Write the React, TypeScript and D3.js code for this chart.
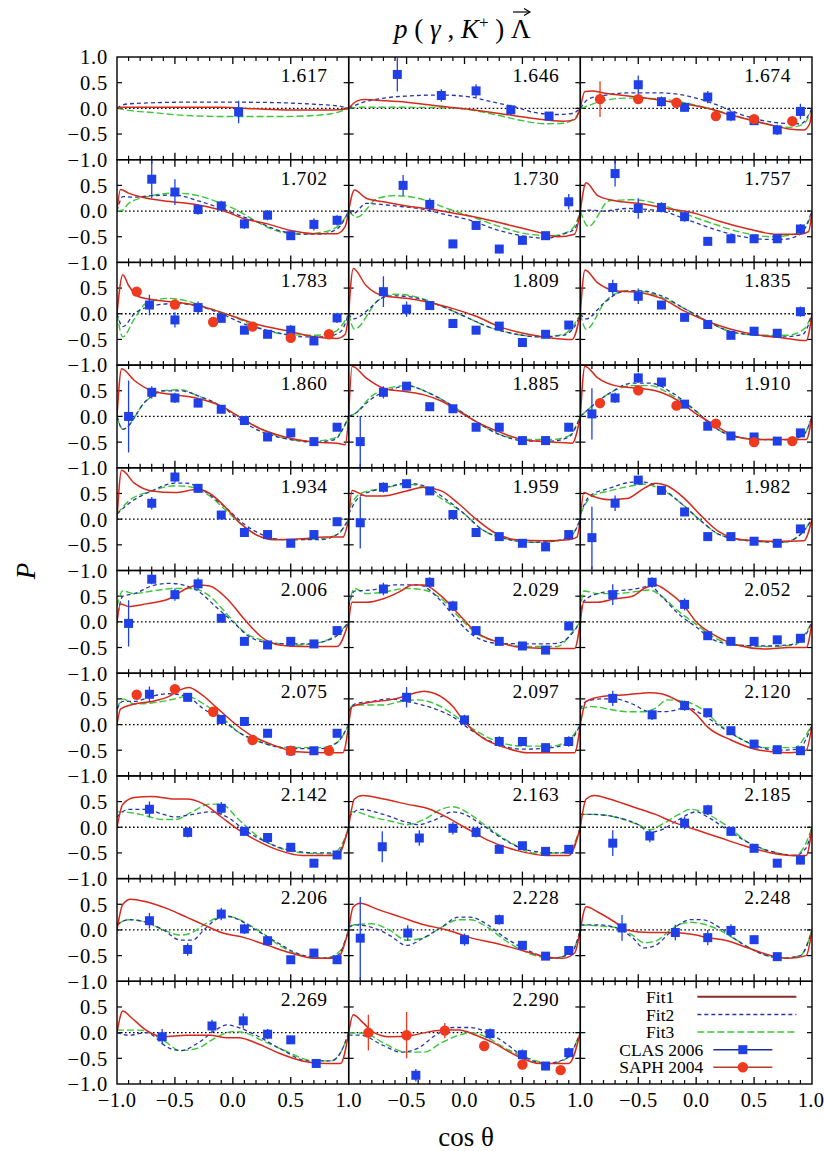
import React from "react";
import * as d3 from "d3";

type Pt = [number, number];
type Dp = [number, number, number]; // cos(theta), P, error

// Photon energies (GeV) labelling each panel
const energies: string[] = [
  "1.617", "1.646", "1.674",
  "1.702", "1.730", "1.757",
  "1.783", "1.809", "1.835",
  "1.860", "1.885", "1.910",
  "1.934", "1.959", "1.982",
  "2.006", "2.029", "2.052",
  "2.075", "2.097", "2.120",
  "2.142", "2.163", "2.185",
  "2.206", "2.228", "2.248",
  "2.269", "2.290",
];

// Fit1 model curves (solid red)
const fit1: Pt[][] = [
  [[-1,0],[-0.95,0.02],[-0.5,0.02],[-0.1,0.02],[0.2,-0.01],[0.5,-0.03],[0.8,-0.03],[0.95,-0.02],[1,0]],
  [[-1,0],[-0.93,0.14],[-0.87,0.17],[-0.7,0.15],[-0.5,0.12],[-0.2,0.04],[0,-0.01],[0.3,-0.1],[0.6,-0.2],[0.85,-0.25],[0.95,-0.22],[1,0]],
  [[-1,0],[-0.96,0.33],[-0.9,0.34],[-0.8,0.3],[-0.5,0.22],[-0.2,0.12],[0.1,0],[0.3,-0.13],[0.6,-0.3],[0.8,-0.4],[0.93,-0.42],[0.98,-0.3],[1,0]],
  [[-1,0],[-0.97,0.42],[-0.9,0.35],[-0.8,0.28],[-0.6,0.2],[-0.3,0.12],[-0.1,0.02],[0.1,-0.15],[0.3,-0.25],[0.5,-0.38],[0.7,-0.44],[0.9,-0.44],[0.97,-0.3],[1,0]],
  [[-1,0],[-0.95,0.41],[-0.85,0.25],[-0.7,0.18],[-0.5,0.1],[-0.3,0.04],[-0.15,-0.02],[0.1,-0.12],[0.4,-0.28],[0.65,-0.42],[0.8,-0.5],[0.95,-0.45],[1,0]],
  [[-1,0],[-0.95,0.55],[-0.85,0.3],[-0.7,0.2],[-0.5,0.15],[-0.25,0.05],[0,-0.05],[0.2,-0.2],[0.45,-0.35],[0.7,-0.45],[0.9,-0.45],[0.97,-0.4],[1,0]],
  [[-1,0],[-0.95,0.76],[-0.9,0.55],[-0.8,0.32],[-0.6,0.25],[-0.4,0.2],[-0.2,0.1],[0,-0.05],[0.2,-0.2],[0.5,-0.35],[0.7,-0.45],[0.9,-0.48],[0.97,-0.4],[1,0]],
  [[-1,0],[-0.96,0.88],[-0.85,0.55],[-0.7,0.35],[-0.5,0.3],[-0.3,0.22],[-0.1,0.1],[0.1,-0.05],[0.3,-0.25],[0.55,-0.4],[0.75,-0.47],[0.93,-0.5],[1,0]],
  [[-1,0],[-0.96,0.85],[-0.85,0.6],[-0.7,0.45],[-0.5,0.42],[-0.3,0.3],[-0.1,0.05],[0.1,-0.15],[0.3,-0.3],[0.55,-0.42],[0.75,-0.47],[0.95,-0.52],[1,0]],
  [[-1,0],[-0.96,0.93],[-0.85,0.7],[-0.7,0.5],[-0.5,0.42],[-0.3,0.35],[-0.1,0.2],[0.05,0],[0.2,-0.2],[0.45,-0.4],[0.7,-0.5],[0.9,-0.52],[0.97,-0.55],[1,0]],
  [[-1,0],[-0.97,0.98],[-0.85,0.75],[-0.7,0.55],[-0.5,0.48],[-0.35,0.42],[-0.2,0.3],[-0.05,0.1],[0.1,-0.1],[0.3,-0.3],[0.5,-0.45],[0.75,-0.5],[0.93,-0.52],[1,0]],
  [[-1,0],[-0.96,0.98],[-0.85,0.75],[-0.7,0.6],[-0.5,0.55],[-0.35,0.5],[-0.15,0.3],[0,0.05],[0.15,-0.15],[0.3,-0.35],[0.5,-0.45],[0.75,-0.45],[0.95,-0.45],[1,0]],
  [[-1,0],[-0.96,0.95],[-0.85,0.7],[-0.7,0.55],[-0.5,0.52],[-0.3,0.58],[-0.2,0.5],[-0.05,0.2],[0.05,-0.05],[0.2,-0.3],[0.35,-0.4],[0.6,-0.38],[0.8,-0.35],[0.95,-0.35],[1,0]],
  [[-1,0],[-0.97,0.56],[-0.85,0.45],[-0.7,0.45],[-0.5,0.55],[-0.35,0.62],[-0.2,0.55],[-0.05,0.3],[0.1,0],[0.25,-0.25],[0.45,-0.4],[0.7,-0.42],[0.9,-0.4],[0.97,-0.35],[1,0]],
  [[-1,0],[-0.97,0.52],[-0.9,0.45],[-0.75,0.38],[-0.6,0.4],[-0.45,0.6],[-0.35,0.7],[-0.25,0.65],[-0.1,0.4],[0.05,0.05],[0.2,-0.25],[0.4,-0.4],[0.7,-0.43],[0.93,-0.42],[1,0]],
  [[-1,0],[-0.97,0.35],[-0.9,0.3],[-0.75,0.35],[-0.55,0.45],[-0.4,0.65],[-0.3,0.72],[-0.2,0.7],[-0.05,0.45],[0.1,0.05],[0.25,-0.3],[0.4,-0.45],[0.6,-0.48],[0.9,-0.48],[1,0]],
  [[-1,0],[-0.97,0.38],[-0.85,0.38],[-0.7,0.45],[-0.55,0.6],[-0.45,0.72],[-0.35,0.72],[-0.2,0.5],[-0.05,0.15],[0.1,-0.2],[0.3,-0.4],[0.5,-0.5],[0.8,-0.52],[0.95,-0.52],[1,0]],
  [[-1,0],[-0.97,0.38],[-0.85,0.38],[-0.7,0.45],[-0.55,0.5],[-0.45,0.65],[-0.35,0.72],[-0.25,0.6],[-0.1,0.3],[0,0],[0.15,-0.25],[0.35,-0.45],[0.6,-0.53],[0.8,-0.5],[0.95,-0.5],[1,0]],
  [[-1,0],[-0.97,0.3],[-0.85,0.4],[-0.7,0.45],[-0.55,0.55],[-0.45,0.68],[-0.38,0.72],[-0.28,0.6],[-0.15,0.35],[0,0.05],[0.15,-0.2],[0.35,-0.4],[0.55,-0.53],[0.8,-0.55],[0.95,-0.55],[1,0]],
  [[-1,0],[-0.97,0.35],[-0.85,0.42],[-0.6,0.5],[-0.45,0.6],[-0.35,0.65],[-0.25,0.6],[-0.1,0.35],[0,0.05],[0.15,-0.25],[0.35,-0.45],[0.55,-0.55],[0.8,-0.55],[0.95,-0.55],[1,0]],
  [[-1,0],[-0.95,0.45],[-0.8,0.55],[-0.6,0.58],[-0.4,0.62],[-0.3,0.6],[-0.15,0.45],[0,0.2],[0.1,-0.05],[0.3,-0.3],[0.55,-0.5],[0.8,-0.55],[0.95,-0.5],[1,0]],
  [[-1,0],[-0.95,0.45],[-0.85,0.58],[-0.7,0.6],[-0.5,0.55],[-0.4,0.55],[-0.25,0.45],[-0.1,0.2],[0.05,-0.05],[0.2,-0.25],[0.4,-0.45],[0.6,-0.55],[0.9,-0.55],[1,0]],
  [[-1,0],[-0.95,0.55],[-0.88,0.62],[-0.7,0.55],[-0.5,0.45],[-0.3,0.35],[-0.2,0.25],[0,0],[0.2,-0.25],[0.45,-0.45],[0.7,-0.55],[0.9,-0.55],[1,0]],
  [[-1,0],[-0.95,0.55],[-0.88,0.62],[-0.75,0.55],[-0.55,0.4],[-0.35,0.25],[-0.2,0.1],[0,-0.05],[0.2,-0.2],[0.4,-0.35],[0.65,-0.5],[0.85,-0.55],[0.95,-0.55],[1,0]],
  [[-1,0],[-0.95,0.5],[-0.88,0.6],[-0.75,0.55],[-0.55,0.4],[-0.4,0.25],[-0.25,0.1],[-0.1,-0.05],[0.1,-0.15],[0.3,-0.3],[0.5,-0.45],[0.7,-0.55],[0.9,-0.55],[1,0]],
  [[-1,0],[-0.96,0.45],[-0.9,0.52],[-0.75,0.4],[-0.55,0.25],[-0.35,0.1],[-0.15,0],[0.05,-0.15],[0.25,-0.25],[0.5,-0.4],[0.7,-0.52],[0.85,-0.55],[0.95,-0.45],[1,0]],
  [[-1,0],[-0.95,0.45],[-0.85,0.35],[-0.7,0.15],[-0.6,0],[-0.4,-0.05],[-0.2,-0.05],[0,-0.1],[0.1,-0.15],[0.25,-0.2],[0.45,-0.35],[0.65,-0.5],[0.8,-0.55],[0.95,-0.5],[1,0]],
  [[-1,0],[-0.95,0.42],[-0.88,0.3],[-0.75,0.05],[-0.6,-0.08],[-0.4,-0.05],[-0.2,-0.05],[-0.05,-0.1],[0.05,-0.1],[0.2,-0.2],[0.4,-0.4],[0.6,-0.55],[0.8,-0.6],[0.93,-0.6],[1,0]],
  [[-1,0],[-0.96,0.35],[-0.88,0.2],[-0.78,0],[-0.65,-0.08],[-0.45,-0.05],[-0.3,0.02],[-0.15,0.05],[-0.05,0.05],[0.1,-0.05],[0.25,-0.2],[0.45,-0.45],[0.65,-0.6],[0.9,-0.6],[1,0]],
];

// Fit2 model curves (blue, short dashes)
const fit2: Pt[][] = [
  [[-1,0],[-0.93,0.08],[-0.8,0.1],[-0.4,0.12],[0,0.12],[0.4,0.11],[0.7,0.08],[0.9,0.05],[1,0]],
  [[-1,0],[-0.9,0.1],[-0.75,0.18],[-0.5,0.24],[-0.2,0.26],[0.05,0.22],[0.25,0.12],[0.45,0.02],[0.6,-0.08],[0.8,-0.12],[0.93,-0.1],[1,0]],
  [[-1,0],[-0.93,0.18],[-0.8,0.25],[-0.6,0.3],[-0.3,0.3],[0,0.2],[0.2,0.05],[0.4,-0.13],[0.7,-0.28],[0.9,-0.3],[1,0]],
  [[-1,0],[-0.95,0.28],[-0.85,0.27],[-0.7,0.3],[-0.5,0.31],[-0.3,0.2],[-0.1,0.05],[0.05,-0.08],[0.2,-0.2],[0.4,-0.38],[0.6,-0.45],[0.75,-0.45],[0.9,-0.35],[1,0]],
  [[-1,0],[-0.96,-0.05],[-0.85,0.15],[-0.6,0.1],[-0.4,0.05],[-0.2,-0.05],[0.05,-0.18],[0.3,-0.38],[0.55,-0.5],[0.7,-0.53],[0.85,-0.45],[0.95,-0.35],[1,0]],
  [[-1,0],[-0.9,0.02],[-0.8,0],[-0.6,0.05],[-0.3,0],[-0.1,-0.15],[0.15,-0.35],[0.4,-0.5],[0.6,-0.55],[0.75,-0.55],[0.9,-0.45],[1,0]],
  [[-1,0],[-0.95,-0.25],[-0.85,0],[-0.7,0.15],[-0.5,0.2],[-0.3,0.15],[-0.1,0],[0.1,-0.2],[0.35,-0.35],[0.6,-0.45],[0.8,-0.45],[0.93,-0.35],[1,0]],
  [[-1,0],[-0.96,-0.1],[-0.82,0.1],[-0.72,0.3],[-0.6,0.35],[-0.4,0.3],[-0.2,0.15],[0,-0.05],[0.2,-0.25],[0.45,-0.4],[0.65,-0.45],[0.85,-0.42],[0.95,-0.25],[1,0]],
  [[-1,0],[-0.95,-0.1],[-0.8,0.2],[-0.65,0.42],[-0.5,0.45],[-0.3,0.35],[-0.1,0.1],[0.1,-0.15],[0.3,-0.35],[0.55,-0.42],[0.75,-0.45],[0.92,-0.4],[1,0]],
  [[-1,0],[-0.95,-0.25],[-0.75,0.3],[-0.6,0.5],[-0.45,0.5],[-0.3,0.4],[-0.1,0.2],[0.05,-0.05],[0.25,-0.3],[0.5,-0.45],[0.7,-0.5],[0.88,-0.45],[0.96,-0.2],[1,0]],
  [[-1,0],[-0.95,0.05],[-0.8,0.35],[-0.6,0.55],[-0.5,0.6],[-0.3,0.45],[-0.1,0.2],[0.1,-0.1],[0.3,-0.35],[0.55,-0.48],[0.75,-0.48],[0.9,-0.4],[1,0]],
  [[-1,0],[-0.9,0.2],[-0.75,0.45],[-0.55,0.65],[-0.4,0.65],[-0.2,0.45],[0,0.1],[0.15,-0.2],[0.35,-0.4],[0.6,-0.45],[0.8,-0.45],[0.93,-0.35],[1,0]],
  [[-1,0.1],[-0.9,0.3],[-0.7,0.55],[-0.5,0.7],[-0.4,0.7],[-0.25,0.55],[-0.05,0.2],[0.1,-0.1],[0.25,-0.3],[0.45,-0.4],[0.75,-0.4],[0.9,-0.3],[1,0]],
  [[-1,0.1],[-0.9,0.45],[-0.7,0.6],[-0.5,0.7],[-0.35,0.65],[-0.2,0.45],[0,0.1],[0.15,-0.2],[0.35,-0.38],[0.6,-0.45],[0.8,-0.42],[0.93,-0.3],[1,0]],
  [[-1,0.1],[-0.92,0.45],[-0.75,0.6],[-0.55,0.72],[-0.45,0.72],[-0.3,0.6],[-0.1,0.25],[0.05,-0.05],[0.2,-0.3],[0.45,-0.42],[0.75,-0.45],[0.9,-0.3],[1,0]],
  [[-1,0.05],[-0.95,0.5],[-0.85,0.55],[-0.7,0.7],[-0.55,0.75],[-0.4,0.7],[-0.3,0.6],[-0.15,0.3],[0,0],[0.15,-0.3],[0.35,-0.42],[0.65,-0.43],[0.88,-0.3],[1,0]],
  [[-1,0.3],[-0.95,0.6],[-0.8,0.62],[-0.6,0.72],[-0.4,0.72],[-0.2,0.4],[-0.05,0],[0.1,-0.3],[0.3,-0.42],[0.6,-0.43],[0.8,-0.42],[0.92,-0.25],[1,0]],
  [[-1,0.1],[-0.97,0.4],[-0.85,0.55],[-0.7,0.6],[-0.5,0.65],[-0.4,0.7],[-0.3,0.5],[-0.15,0.15],[0,-0.1],[0.15,-0.35],[0.35,-0.45],[0.6,-0.47],[0.8,-0.45],[0.93,-0.3],[1,0]],
  [[-1,0.3],[-0.95,0.45],[-0.85,0.45],[-0.7,0.55],[-0.55,0.6],[-0.4,0.55],[-0.25,0.3],[-0.1,0.1],[0.05,-0.15],[0.25,-0.35],[0.5,-0.47],[0.75,-0.47],[0.9,-0.35],[1,0]],
  [[-1,0.25],[-0.95,0.4],[-0.8,0.45],[-0.65,0.5],[-0.5,0.45],[-0.4,0.4],[-0.25,0.3],[-0.1,0.15],[0.05,-0.1],[0.25,-0.35],[0.5,-0.48],[0.75,-0.45],[0.9,-0.35],[1,0]],
  [[-1,0.3],[-0.95,0.45],[-0.8,0.5],[-0.7,0.5],[-0.55,0.4],[-0.4,0.25],[-0.3,0.25],[-0.15,0.3],[-0.1,0.35],[0.05,0.2],[0.25,-0.1],[0.45,-0.35],[0.7,-0.5],[0.88,-0.48],[1,0]],
  [[-1,0.2],[-0.9,0.35],[-0.75,0.35],[-0.6,0.25],[-0.5,0.2],[-0.35,0.25],[-0.2,0.3],[-0.05,0.2],[0.1,-0.05],[0.3,-0.3],[0.5,-0.45],[0.75,-0.5],[0.9,-0.5],[1,0]],
  [[-1,0.2],[-0.9,0.35],[-0.7,0.25],[-0.5,0.1],[-0.4,0.05],[-0.25,0.15],[-0.1,0.3],[0,0.25],[0.15,0.05],[0.35,-0.25],[0.55,-0.45],[0.8,-0.5],[0.92,-0.45],[1,0]],
  [[-1,0.25],[-0.9,0.25],[-0.7,0.2],[-0.5,0.05],[-0.4,-0.1],[-0.3,-0.05],[-0.15,0.15],[0,0.3],[0.1,0.2],[0.3,-0.1],[0.5,-0.35],[0.7,-0.5],[0.85,-0.55],[0.95,-0.4],[1,0]],
  [[-1,0.1],[-0.9,0.2],[-0.75,0.15],[-0.6,0],[-0.45,-0.2],[-0.35,-0.2],[-0.25,0],[-0.15,0.2],[-0.05,0.27],[0.05,0.2],[0.2,0],[0.35,-0.2],[0.55,-0.45],[0.75,-0.55],[0.9,-0.5],[1,0]],
  [[-1,0.05],[-0.95,0.1],[-0.8,0.05],[-0.65,-0.1],[-0.5,-0.3],[-0.35,-0.15],[-0.2,0.05],[-0.05,0.25],[0.05,0.25],[0.2,0.1],[0.35,-0.15],[0.55,-0.4],[0.75,-0.55],[0.92,-0.45],[1,0]],
  [[-1,0.1],[-0.85,0.1],[-0.7,0.05],[-0.55,-0.15],[-0.45,-0.35],[-0.35,-0.3],[-0.25,-0.1],[-0.15,0.1],[-0.05,0.2],[0.05,0.2],[0.2,0.05],[0.35,-0.2],[0.55,-0.45],[0.75,-0.55],[0.9,-0.5],[1,0]],
  [[-1,0],[-0.9,-0.05],[-0.75,0],[-0.55,-0.3],[-0.45,-0.35],[-0.3,-0.2],[-0.15,0.05],[-0.05,0.15],[0.05,0.1],[0.2,-0.05],[0.4,-0.3],[0.65,-0.55],[0.85,-0.55],[0.95,-0.3],[1,0]],
  [[-1,-0.05],[-0.9,-0.05],[-0.7,-0.25],[-0.55,-0.38],[-0.4,-0.3],[-0.25,-0.05],[-0.1,0.1],[0.05,0.1],[0.2,0],[0.35,-0.2],[0.5,-0.45],[0.7,-0.6],[0.88,-0.5],[1,0]],
];

// Fit3 model curves (green, long dashes)
const fit3: Pt[][] = [
  [[-1,0],[-0.9,-0.04],[-0.7,-0.08],[-0.4,-0.14],[0,-0.16],[0.4,-0.16],[0.7,-0.14],[0.9,-0.08],[1,0]],
  [[-1,0],[-0.9,0.02],[-0.5,0.02],[-0.1,0.01],[0.1,-0.05],[0.3,-0.14],[0.5,-0.24],[0.7,-0.3],[0.85,-0.29],[0.95,-0.2],[1,0]],
  [[-1,0],[-0.93,0.05],[-0.85,0.12],[-0.6,0.2],[-0.3,0.18],[0,0.06],[0.3,-0.12],[0.6,-0.3],[0.8,-0.37],[0.93,-0.3],[1,0]],
  [[-1,0],[-0.95,0.02],[-0.9,0.15],[-0.7,0.3],[-0.5,0.35],[-0.3,0.3],[-0.1,0.15],[0.05,0],[0.2,-0.2],[0.4,-0.4],[0.6,-0.45],[0.8,-0.4],[0.93,-0.25],[1,0]],
  [[-1,0],[-0.93,-0.12],[-0.75,0.25],[-0.6,0.3],[-0.4,0.25],[-0.15,0.05],[0.05,-0.1],[0.3,-0.3],[0.55,-0.45],[0.75,-0.48],[0.9,-0.4],[0.97,-0.2],[1,0]],
  [[-1,0],[-0.93,-0.3],[-0.75,0.2],[-0.55,0.22],[-0.3,0.12],[-0.1,-0.05],[0.15,-0.25],[0.4,-0.42],[0.65,-0.5],[0.85,-0.45],[0.95,-0.3],[1,0]],
  [[-1,0],[-0.95,-0.45],[-0.85,-0.1],[-0.75,0.2],[-0.55,0.3],[-0.4,0.25],[-0.2,0.1],[0,-0.05],[0.2,-0.25],[0.45,-0.4],[0.7,-0.42],[0.85,-0.38],[0.95,-0.2],[1,0]],
  [[-1,0],[-0.95,-0.3],[-0.75,0.25],[-0.6,0.38],[-0.4,0.32],[-0.2,0.15],[0,-0.05],[0.2,-0.25],[0.45,-0.4],[0.65,-0.45],[0.85,-0.4],[0.95,-0.2],[1,0]],
  [[-1,0],[-0.95,-0.3],[-0.78,0.25],[-0.6,0.45],[-0.45,0.43],[-0.3,0.32],[-0.1,0.1],[0.1,-0.15],[0.3,-0.35],[0.55,-0.42],[0.78,-0.42],[0.93,-0.3],[1,0]],
  [[-1,0],[-0.95,-0.25],[-0.75,0.3],[-0.6,0.5],[-0.45,0.52],[-0.3,0.4],[-0.1,0.2],[0.05,0],[0.25,-0.25],[0.5,-0.45],[0.7,-0.48],[0.88,-0.42],[0.96,-0.2],[1,0]],
  [[-1,0],[-0.95,0.05],[-0.8,0.4],[-0.6,0.58],[-0.5,0.6],[-0.3,0.45],[-0.1,0.2],[0.1,-0.1],[0.3,-0.35],[0.55,-0.45],[0.75,-0.45],[0.9,-0.38],[1,0]],
  [[-1,0],[-0.9,0.2],[-0.75,0.45],[-0.55,0.6],[-0.4,0.6],[-0.2,0.4],[0,0.1],[0.15,-0.2],[0.35,-0.4],[0.6,-0.45],[0.8,-0.45],[0.93,-0.35],[1,0]],
  [[-1,0.1],[-0.9,0.35],[-0.7,0.55],[-0.5,0.65],[-0.35,0.62],[-0.2,0.45],[-0.05,0.15],[0.1,-0.15],[0.25,-0.35],[0.5,-0.4],[0.75,-0.38],[0.9,-0.3],[1,0]],
  [[-1,0.2],[-0.9,0.5],[-0.7,0.6],[-0.5,0.68],[-0.35,0.62],[-0.2,0.4],[0,0.1],[0.15,-0.2],[0.35,-0.38],[0.6,-0.45],[0.8,-0.42],[0.93,-0.3],[1,0]],
  [[-1,0.1],[-0.9,0.45],[-0.75,0.55],[-0.55,0.65],[-0.45,0.68],[-0.3,0.58],[-0.1,0.25],[0.05,-0.05],[0.2,-0.3],[0.45,-0.42],[0.75,-0.45],[0.92,-0.25],[1,0]],
  [[-1,0.3],[-0.95,0.6],[-0.85,0.55],[-0.7,0.6],[-0.5,0.65],[-0.35,0.65],[-0.2,0.5],[-0.05,0.15],[0.1,-0.2],[0.3,-0.38],[0.55,-0.45],[0.75,-0.4],[0.92,-0.2],[1,0]],
  [[-1,0.3],[-0.95,0.65],[-0.85,0.55],[-0.7,0.58],[-0.5,0.65],[-0.35,0.62],[-0.2,0.45],[-0.05,0.1],[0.1,-0.22],[0.3,-0.4],[0.55,-0.48],[0.8,-0.48],[0.93,-0.2],[1,0]],
  [[-1,0.2],[-0.97,0.6],[-0.85,0.55],[-0.7,0.55],[-0.55,0.58],[-0.4,0.62],[-0.3,0.5],[-0.15,0.2],[0,-0.05],[0.15,-0.3],[0.35,-0.45],[0.6,-0.48],[0.85,-0.45],[0.95,-0.2],[1,0]],
  [[-1,0.3],[-0.95,0.5],[-0.85,0.4],[-0.7,0.42],[-0.5,0.5],[-0.4,0.55],[-0.25,0.4],[-0.1,0.15],[0.05,-0.15],[0.25,-0.35],[0.5,-0.45],[0.75,-0.45],[0.9,-0.35],[1,0]],
  [[-1,0.3],[-0.95,0.38],[-0.85,0.38],[-0.7,0.38],[-0.55,0.45],[-0.4,0.48],[-0.25,0.4],[-0.1,0.2],[0.05,-0.05],[0.25,-0.3],[0.5,-0.42],[0.75,-0.42],[0.9,-0.3],[1,0]],
  [[-1,0.3],[-0.9,0.35],[-0.75,0.3],[-0.6,0.25],[-0.45,0.25],[-0.35,0.32],[-0.25,0.48],[-0.1,0.45],[0.05,0.3],[0.2,0],[0.4,-0.3],[0.6,-0.45],[0.85,-0.45],[0.95,-0.2],[1,0]],
  [[-1,0.3],[-0.95,0.3],[-0.8,0.25],[-0.6,0.15],[-0.5,0.15],[-0.35,0.3],[-0.2,0.45],[-0.1,0.45],[0.05,0.15],[0.2,-0.15],[0.4,-0.4],[0.6,-0.5],[0.85,-0.52],[0.95,-0.3],[1,0]],
  [[-1,0.3],[-0.95,0.3],[-0.8,0.2],[-0.6,0.1],[-0.5,0.05],[-0.35,0.15],[-0.2,0.35],[-0.1,0.4],[0.05,0.25],[0.2,0],[0.4,-0.3],[0.6,-0.5],[0.85,-0.5],[0.95,-0.3],[1,0]],
  [[-1,0.25],[-0.9,0.25],[-0.7,0.2],[-0.5,0.05],[-0.4,-0.05],[-0.3,0.05],[-0.15,0.25],[-0.05,0.35],[0.05,0.3],[0.25,0.05],[0.45,-0.3],[0.7,-0.5],[0.85,-0.55],[0.95,-0.3],[1,0]],
  [[-1,0.1],[-0.9,0.2],[-0.75,0.15],[-0.6,0],[-0.45,-0.1],[-0.35,-0.05],[-0.25,0.1],[-0.1,0.25],[0,0.25],[0.1,0.15],[0.25,-0.05],[0.4,-0.3],[0.6,-0.5],[0.8,-0.55],[0.93,-0.4],[1,0]],
  [[-1,0.05],[-0.95,0.1],[-0.8,0.12],[-0.65,0],[-0.5,-0.2],[-0.35,-0.15],[-0.2,0.05],[-0.05,0.2],[0.05,0.2],[0.2,0.05],[0.35,-0.2],[0.55,-0.45],[0.75,-0.55],[0.92,-0.45],[1,0]],
  [[-1,0.1],[-0.85,0.08],[-0.7,0.05],[-0.55,-0.1],[-0.45,-0.25],[-0.35,-0.22],[-0.25,-0.05],[-0.15,0.1],[-0.05,0.15],[0.05,0.12],[0.2,0],[0.35,-0.2],[0.55,-0.45],[0.75,-0.55],[0.9,-0.5],[1,0]],
  [[-1,0.05],[-0.95,0.05],[-0.8,0.05],[-0.6,-0.15],[-0.45,-0.35],[-0.3,-0.3],[-0.15,-0.1],[0,0.02],[0.1,0],[0.25,-0.15],[0.45,-0.35],[0.7,-0.55],[0.85,-0.55],[0.95,-0.3],[1,0]],
  [[-1,0],[-0.85,-0.02],[-0.7,-0.2],[-0.5,-0.38],[-0.35,-0.38],[-0.2,-0.2],[-0.05,-0.05],[0.05,0],[0.2,-0.1],[0.35,-0.3],[0.55,-0.5],[0.75,-0.6],[0.88,-0.5],[1,0]],
];

// CLAS 2006 measurements: [cos theta, P, error]
const clas: Dp[][] = [
  [[0.05,-0.07,0.22]],
  [[-0.58,0.66,0.33],[-0.2,0.25,0.12],[0.1,0.34,0.13],[0.4,-0.03,0.1],[0.73,-0.15,0.08]],
  [[-0.5,0.46,0.18],[-0.3,0.13,0.1],[-0.1,0.02,0.08],[0.1,0.22,0.12],[0.3,-0.15,0.1],[0.5,-0.24,0.08],[0.7,-0.42,0.1],[0.9,-0.06,0.15]],
  [[-0.7,0.62,0.37],[-0.5,0.37,0.25],[-0.3,0.03,0.1],[-0.1,0.1,0.1],[0.1,-0.25,0.1],[0.3,-0.08,0.1],[0.5,-0.48,0.08],[0.7,-0.26,0.12],[0.9,-0.18,0.1]],
  [[-0.53,0.5,0.2],[-0.3,0.13,0.12],[-0.1,-0.64,0.08],[0.1,-0.28,0.08],[0.3,-0.74,0.08],[0.5,-0.57,0.08],[0.7,-0.48,0.06],[0.9,0.18,0.15]],
  [[-0.7,0.73,0.25],[-0.5,0.05,0.2],[-0.3,0.07,0.1],[-0.1,-0.11,0.1],[0.1,-0.59,0.07],[0.3,-0.54,0.05],[0.5,-0.54,0.05],[0.7,-0.54,0.05],[0.9,-0.35,0.1]],
  [[-0.72,0.17,0.2],[-0.5,-0.12,0.15],[-0.3,0.12,0.12],[-0.1,-0.09,0.06],[0.1,-0.32,0.08],[0.3,-0.4,0.06],[0.5,-0.32,0.1],[0.7,-0.53,0.06],[0.9,-0.08,0.1]],
  [[-0.7,0.43,0.3],[-0.5,0.09,0.15],[-0.3,0.16,0.08],[-0.1,-0.19,0.06],[0.1,-0.32,0.07],[0.3,-0.24,0.06],[0.5,-0.56,0.08],[0.7,-0.4,0.06],[0.9,-0.22,0.08]],
  [[-0.72,0.51,0.15],[-0.5,0.34,0.15],[-0.3,0.17,0.08],[-0.1,-0.07,0.06],[0.1,-0.21,0.06],[0.3,-0.42,0.07],[0.5,-0.34,0.05],[0.7,-0.38,0.05],[0.9,0.04,0.1]],
  [[-0.9,0,0.7],[-0.7,0.47,0.12],[-0.5,0.36,0.1],[-0.3,0.26,0.08],[-0.1,0.14,0.06],[0.1,-0.08,0.06],[0.3,-0.4,0.06],[0.5,-0.32,0.06],[0.7,-0.49,0.06],[0.9,-0.21,0.07]],
  [[-0.9,-0.49,0.5],[-0.7,0.47,0.12],[-0.5,0.59,0.08],[-0.3,0.19,0.06],[-0.1,0.15,0.06],[0.1,-0.21,0.05],[0.3,-0.21,0.06],[0.5,-0.47,0.05],[0.7,-0.47,0.05],[0.9,-0.21,0.08]],
  [[-0.9,0.05,0.5],[-0.7,0.36,0.1],[-0.5,0.75,0.1],[-0.3,0.67,0.08],[-0.1,0.24,0.06],[0.1,-0.19,0.05],[0.3,-0.38,0.05],[0.5,-0.4,0.04],[0.7,-0.48,0.05],[0.9,-0.32,0.06]],
  [[-0.7,0.31,0.12],[-0.5,0.82,0.1],[-0.3,0.6,0.08],[-0.1,0.08,0.06],[0.1,-0.26,0.05],[0.3,-0.3,0.05],[0.5,-0.47,0.05],[0.7,-0.3,0.05],[0.9,-0.05,0.08]],
  [[-0.9,-0.07,0.5],[-0.7,0.62,0.1],[-0.5,0.69,0.08],[-0.3,0.55,0.06],[-0.1,0.09,0.06],[0.1,-0.26,0.05],[0.3,-0.34,0.05],[0.5,-0.47,0.05],[0.7,-0.54,0.05],[0.9,-0.3,0.06]],
  [[-0.9,-0.36,0.6],[-0.7,0.31,0.15],[-0.5,0.76,0.08],[-0.3,0.56,0.06],[-0.1,0.14,0.06],[0.1,-0.34,0.05],[0.3,-0.34,0.05],[0.5,-0.43,0.05],[0.7,-0.47,0.05],[0.9,-0.19,0.06]],
  [[-0.9,-0.03,0.45],[-0.7,0.83,0.1],[-0.5,0.53,0.12],[-0.3,0.74,0.12],[-0.1,0.07,0.06],[0.1,-0.38,0.06],[0.3,-0.45,0.05],[0.5,-0.38,0.05],[0.7,-0.43,0.05],[0.9,-0.17,0.06]],
  [[-0.7,0.64,0.12],[-0.3,0.77,0.1],[-0.1,0.31,0.1],[0.1,-0.17,0.06],[0.3,-0.38,0.05],[0.5,-0.47,0.05],[0.7,-0.55,0.05],[0.9,-0.08,0.08]],
  [[-0.72,0.53,0.2],[-0.38,0.77,0.1],[-0.1,0.34,0.12],[0.1,-0.27,0.06],[0.3,-0.38,0.05],[0.5,-0.38,0.05],[0.7,-0.35,0.05],[0.9,-0.32,0.08]],
  [[-0.72,0.59,0.15],[-0.39,0.53,0.08],[-0.1,0.1,0.06],[0.1,0.06,0.07],[0.3,-0.17,0.07],[0.5,-0.51,0.05],[0.7,-0.51,0.05],[0.9,-0.17,0.06]],
  [[-0.5,0.53,0.2],[0,0.09,0.1],[0.3,-0.33,0.1],[0.5,-0.33,0.08],[0.7,-0.45,0.08],[0.9,-0.33,0.1]],
  [[-0.72,0.51,0.15],[-0.38,0.19,0.1],[-0.1,0.37,0.1],[0.1,0.23,0.08],[0.3,-0.12,0.06],[0.5,-0.38,0.05],[0.7,-0.49,0.05],[0.9,-0.51,0.05]],
  [[-0.72,0.35,0.15],[-0.39,-0.1,0.1],[-0.1,0.37,0.12],[0.1,-0.08,0.08],[0.3,-0.2,0.07],[0.5,-0.39,0.05],[0.7,-0.7,0.06],[0.9,-0.54,0.08]],
  [[-0.71,-0.38,0.3],[-0.39,-0.21,0.15],[-0.1,-0.02,0.12],[0.1,-0.1,0.1],[0.3,-0.43,0.08],[0.5,-0.36,0.06],[0.7,-0.47,0.05],[0.9,-0.43,0.08]],
  [[-0.72,-0.31,0.25],[-0.4,-0.17,0.12],[-0.1,0.08,0.12],[0.1,0.34,0.1],[0.3,-0.08,0.08],[0.5,-0.41,0.06],[0.7,-0.7,0.05],[0.9,-0.64,0.08]],
  [[-0.72,0.18,0.15],[-0.39,-0.38,0.12],[-0.1,0.31,0.12],[0.1,0.02,0.1],[0.3,-0.21,0.08],[0.5,-0.58,0.06],[0.7,-0.45,0.06],[0.9,-0.58,0.06]],
  [[-0.9,-0.16,0.8],[-0.49,-0.06,0.15],[0,-0.19,0.12],[0.3,0.2,0.1],[0.5,-0.3,0.08],[0.7,-0.51,0.06],[0.9,-0.4,0.08]],
  [[-0.64,0.04,0.25],[-0.18,-0.05,0.15],[0.1,-0.15,0.15],[0.3,-0.01,0.12],[0.5,-0.19,0.08],[0.7,-0.52,0.05]],
  [[-0.61,-0.08,0.15],[-0.18,0.13,0.12],[0.09,0.23,0.15],[0.3,-0.03,0.1],[0.5,-0.14,0.08],[0.72,-0.6,0.05]],
  [[-0.42,-0.83,0.12],[0.22,-0.02,0.1],[0.5,-0.43,0.1],[0.7,-0.65,0.08],[0.9,-0.39,0.1]],
];

// SAPHIR 2004 measurements: [cos theta, P, error]; empty where not measured
const saph: Dp[][] = [
  [], [],
  [[-0.83,0.18,0.35],[-0.5,0.18,0.06],[-0.17,0.11,0.06],[0.17,-0.15,0.05],[0.5,-0.21,0.05],[0.83,-0.25,0.05]],
  [], [], [],
  [[-0.83,0.43,0.06],[-0.5,0.18,0.05],[-0.17,-0.16,0.05],[0.17,-0.25,0.05],[0.5,-0.47,0.05],[0.83,-0.4,0.05]],
  [], [], [], [],
  [[-0.83,0.26,0.1],[-0.5,0.51,0.06],[-0.17,0.21,0.05],[0.17,-0.14,0.05],[0.5,-0.5,0.04],[0.83,-0.48,0.04]],
  [], [], [], [], [], [],
  [[-0.83,0.58,0.05],[-0.5,0.69,0.05],[-0.17,0.25,0.05],[0.17,-0.3,0.05],[0.5,-0.51,0.05],[0.83,-0.51,0.05]],
  [], [], [], [], [], [], [], [], [],
  [[-0.83,0,0.35],[-0.5,-0.05,0.45],[-0.17,0.04,0.15],[0.17,-0.26,0.06],[0.5,-0.62,0.08],[0.83,-0.73,0.08]],
];

const yTickValues = [-1, -0.5, 0, 0.5, 1];
const xMajorTicks = [-1, -0.5, 0, 0.5, 1];
const xMinorTicks = [-0.9, -0.8, -0.7, -0.6, -0.4, -0.3, -0.2, -0.1, 0.1, 0.2, 0.3, 0.4, 0.6, 0.7, 0.8, 0.9];

const fitLegend = ["Fit1", "Fit2", "Fit3"];
const dataLegend = ["CLAS 2006", "SAPH 2004"];

// layout
const W = 824;
const H = 1151;
const LEFT = 117;
const RIGHT = 812;
const TOP = 57;
const BOTTOM = 1084;
const NCOL = 3;
const NROW = 10;
const PW = (RIGHT - LEFT) / NCOL;
const PH = (BOTTOM - TOP) / NROW;

const FONT = "'Liberation Serif', 'Times New Roman', serif";
const C_FIT1 = "#d8281c";
const C_FIT2 = "#2a36a8";
const C_FIT3 = "#38c838";
const C_CLAS = "#1e40e6";
const C_SAPH = "#ee3a1e";

const fmt = (v: number) => (v < 0 ? "\u2212" : "") + Math.abs(v).toFixed(1);

function Frame({ x0, y0, clipId }: { x0: number; y0: number; clipId: string }) {
  const xs = d3.scaleLinear().domain([-1, 1]).range([x0, x0 + PW]);
  const ys = d3.scaleLinear().domain([-1, 1]).range([y0 + PH, y0]);
  return (
    <g>
      <clipPath id={clipId}>
        <rect x={x0} y={y0} width={PW} height={PH} />
      </clipPath>
      {xMinorTicks.map((t) => (
        <g key={"mn" + t}>
          <line x1={xs(t)} x2={xs(t)} y1={y0} y2={y0 + 4} stroke="#000" strokeWidth={1.2} />
          <line x1={xs(t)} x2={xs(t)} y1={y0 + PH} y2={y0 + PH - 4} stroke="#000" strokeWidth={1.2} />
        </g>
      ))}
      {xMajorTicks.slice(1, -1).map((t) => (
        <g key={"mj" + t}>
          <line x1={xs(t)} x2={xs(t)} y1={y0} y2={y0 + 7} stroke="#000" strokeWidth={1.3} />
          <line x1={xs(t)} x2={xs(t)} y1={y0 + PH} y2={y0 + PH - 7} stroke="#000" strokeWidth={1.3} />
        </g>
      ))}
      {yTickValues.slice(1, -1).map((t) => (
        <g key={"y" + t}>
          <line x1={x0} x2={x0 + 5} y1={ys(t)} y2={ys(t)} stroke="#000" strokeWidth={1.2} />
          <line x1={x0 + PW} x2={x0 + PW - 5} y1={ys(t)} y2={ys(t)} stroke="#000" strokeWidth={1.2} />
        </g>
      ))}
    </g>
  );
}

function Panel({ i }: { i: number }) {
  const col = i % NCOL;
  const row = Math.floor(i / NCOL);
  const x0 = LEFT + col * PW;
  const y0 = TOP + row * PH;
  const xs = d3.scaleLinear().domain([-1, 1]).range([x0, x0 + PW]);
  const ys = d3.scaleLinear().domain([-1, 1]).range([y0 + PH, y0]);
  const line = d3
    .line<Pt>()
    .x((d) => xs(d[0]))
    .y((d) => ys(d[1]))
    .curve(d3.curveMonotoneX);
  const clipId = "clip" + i;
  return (
    <g>
      <Frame x0={x0} y0={y0} clipId={clipId} />
      <line x1={x0} x2={x0 + PW} y1={ys(0)} y2={ys(0)} stroke="#000" strokeWidth={1.3} strokeDasharray="1.6,2.4" />
      <g clipPath={`url(#${clipId})`}>
        <path d={line(fit3[i]) || ""} fill="none" stroke={C_FIT3} strokeWidth={1.4} strokeDasharray="7,3" />
        <path d={line(fit2[i]) || ""} fill="none" stroke={C_FIT2} strokeWidth={1.3} strokeDasharray="4,3" />
        <path d={line(fit1[i]) || ""} fill="none" stroke={C_FIT1} strokeWidth={1.5} />
        {clas[i].map((d, k) => (
          <g key={"c" + k}>
            <line x1={xs(d[0])} x2={xs(d[0])} y1={ys(d[1] - d[2])} y2={ys(d[1] + d[2])} stroke={C_CLAS} strokeWidth={1.3} />
            <rect x={xs(d[0]) - 4.5} y={ys(d[1]) - 4.5} width={9} height={9} fill={C_CLAS} />
          </g>
        ))}
        {saph[i].map((d, k) => (
          <g key={"s" + k}>
            <line x1={xs(d[0])} x2={xs(d[0])} y1={ys(d[1] - d[2])} y2={ys(d[1] + d[2])} stroke={C_SAPH} strokeWidth={1.3} />
            <circle cx={xs(d[0])} cy={ys(d[1])} r={5.2} fill={C_SAPH} />
          </g>
        ))}
      </g>
      <text x={x0 + PW - 21} y={y0 + 25} textAnchor="end" fontFamily={FONT} fontSize={19.5} letterSpacing={0.6} fill="#000">
        {energies[i]}
      </text>
      <rect x={x0} y={y0} width={PW} height={PH} fill="none" stroke="#000" strokeWidth={1.4} />
    </g>
  );
}

function Legend() {
  const i = 29;
  const col = i % NCOL;
  const row = Math.floor(i / NCOL);
  const x0 = LEFT + col * PW;
  const y0 = TOP + row * PH;
  const yPos = d3.scalePoint<string>().domain([...fitLegend, ...dataLegend]).range([y0 + 15.5, y0 + 86]);
  const fitTextX = x0 + 94;
  const dataTextX = x0 + 123;
  const longL = [x0 + 117, x0 + 216];
  const shortL = [x0 + 133, x0 + 192];
  const mid = (shortL[0] + shortL[1]) / 2;
  const fitStyles = [
    { stroke: "#8e2a26", width: 2, dash: undefined as string | undefined },
    { stroke: C_FIT2, width: 1.4, dash: "4,3" },
    { stroke: C_FIT3, width: 1.5, dash: "7,3" },
  ];
  return (
    <g>
      <Frame x0={x0} y0={y0} clipId="clipLegend" />
      {fitLegend.map((name, k) => (
        <g key={name}>
          <text x={fitTextX} y={yPos(name)!} dy="0.35em" textAnchor="end" fontFamily={FONT} fontSize={17.5} fill="#000">
            {name}
          </text>
          <line
            x1={longL[0]}
            x2={longL[1]}
            y1={yPos(name)!}
            y2={yPos(name)!}
            stroke={fitStyles[k].stroke}
            strokeWidth={fitStyles[k].width}
            strokeDasharray={fitStyles[k].dash}
          />
        </g>
      ))}
      {dataLegend.map((name) => (
        <text key={name} x={dataTextX} y={yPos(name)!} dy="0.35em" textAnchor="end" fontFamily={FONT} fontSize={17.5} fill="#000">
          {name}
        </text>
      ))}
      <line x1={shortL[0]} x2={shortL[1]} y1={yPos("CLAS 2006")!} y2={yPos("CLAS 2006")!} stroke="#1e2f9e" strokeWidth={1.6} />
      <rect x={mid - 4.5} y={yPos("CLAS 2006")! - 4.5} width={9} height={9} fill={C_CLAS} />
      <line x1={shortL[0]} x2={shortL[1]} y1={yPos("SAPH 2004")!} y2={yPos("SAPH 2004")!} stroke="#b83a2a" strokeWidth={1.6} />
      <circle cx={mid} cy={yPos("SAPH 2004")!} r={5.2} fill={C_SAPH} />
      <rect x={x0} y={y0} width={PW} height={PH} fill="none" stroke="#000" strokeWidth={1.4} />
    </g>
  );
}

function Axes() {
  const ys0 = d3.scaleLinear().domain([-1, 1]).range([PH, 0]);
  const labels: JSX.Element[] = [];
  for (let r = 0; r < NROW; r++) {
    const y0 = TOP + r * PH;
    yTickValues.forEach((t) => {
      if (t === 1 && r > 0) return;
      labels.push(
        <text key={`y${r}_${t}`} x={108} y={y0 + ys0(t)} dy="0.36em" textAnchor="end" fontFamily={FONT} fontSize={20.5} letterSpacing={0.8} fill="#000">
          {fmt(t)}
        </text>
      );
    });
  }
  for (let c = 0; c < NCOL; c++) {
    const xs = d3.scaleLinear().domain([-1, 1]).range([LEFT + c * PW, LEFT + (c + 1) * PW]);
    xMajorTicks.forEach((t) => {
      if (t === -1 && c > 0) return;
      labels.push(
        <text key={`x${c}_${t}`} x={Math.min(xs(t), W - 13)} y={1107} textAnchor="middle" fontFamily={FONT} fontSize={20.5} letterSpacing={0.3} fill="#000">
          {fmt(t)}
        </text>
      );
    });
  }
  return <g>{labels}</g>;
}

export default function App() {
  const panels = d3.range(energies.length);
  return (
    <svg
      width={W}
      height={H}
      viewBox={`0 0 ${W} ${H}`}
      style={{ position: "absolute", left: 0, top: 0, background: "#fff" }}
    >
      <rect x={0} y={0} width={W} height={H} fill="#fff" />
      {/* title: p(gamma, K+) Lambda with polarization arrow */}
      <text x={394} y={38} textAnchor="start" fontFamily={FONT} fontSize={27} fill="#000" xmlSpace="preserve">
        <tspan fontStyle="italic">p</tspan>
        <tspan> ( </tspan>
        <tspan fontStyle="italic">γ</tspan>
        <tspan> , </tspan>
        <tspan fontStyle="italic">K</tspan>
        <tspan dy={-10} fontSize={17}>+</tspan>
        <tspan dy={10}> ) </tspan>
      </text>
      <text x={511} y={38} textAnchor="start" fontFamily={FONT} fontSize={27} fill="#000">
        Λ
      </text>
      <line x1={513} x2={529} y1={12} y2={12} stroke="#000" strokeWidth={1.2} />
      <path d="M524,8.5 L530,12 L524,15.5" fill="none" stroke="#000" strokeWidth={1.2} />

      <text
        transform="translate(26,571) rotate(-90)"
        textAnchor="middle"
        dy="0.35em"
        fontFamily={FONT}
        fontStyle="italic"
        fontSize={27}
        fill="#000"
      >
        P
      </text>
      <text x={466} y={1146} textAnchor="middle" fontFamily={FONT} fontSize={27} fill="#000">
        cos θ
      </text>

      {panels.map((i) => (
        <Panel key={i} i={i} />
      ))}
      <Legend />
      <Axes />
    </svg>
  );
}
